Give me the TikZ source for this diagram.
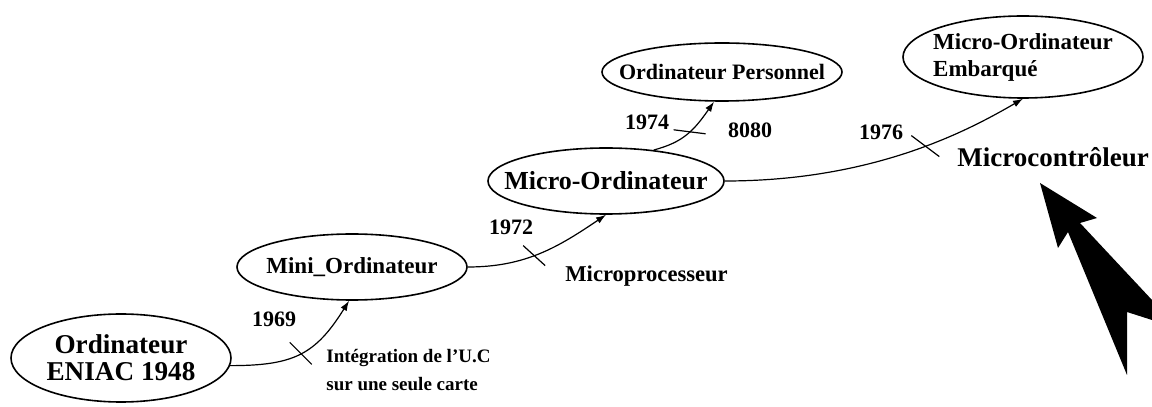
\documentclass[tikz,border=0pt]{standalone}
\usepackage{fontspec}
\setmainfont{Liberation Serif}
\usetikzlibrary{shapes.geometric,arrows.meta}

\begin{document}
\begin{tikzpicture}[x=0.5pt, y=0.5pt,
    bubble/.style={ellipse, draw, line width=0.8pt, inner sep=-20pt, font=\bfseries},
    link/.style={line width=0.6pt, -{Latex[length=5pt,width=3.5pt]}},
    tick/.style={line width=0.6pt},
    lbl/.style={inner sep=0pt, font=\bfseries\fontsize{11}{13}\selectfont}]
    \useasboundingbox (0,0) rectangle (1152,407);
    % the machines
    \node [bubble, minimum width=110pt, minimum height=44pt, align=center,
        font=\bfseries\fontsize{13.6}{13.5}\selectfont] (eniac) at (121,49) {Ordinateur\\ENIAC 1948};
    \node [bubble, minimum width=115pt, minimum height=33pt,
        font=\bfseries\fontsize{11.5}{13}\selectfont] (mini) at (352,140) {Mini\_Ordinateur};
    \node [bubble, minimum width=118pt, minimum height=33pt,
        font=\bfseries\fontsize{13}{15}\selectfont] (micro) at (606,226) {Micro-Ordinateur};
    \node [bubble, minimum width=120pt, minimum height=29pt,
        font=\bfseries\fontsize{11}{13}\selectfont] (pers) at (722,335) {Ordinateur Personnel};
    \node [bubble, minimum width=120pt, minimum height=41pt, align=left,
        font=\bfseries\fontsize{11.5}{13.5}\selectfont] (emb) at (1023,350) {Micro-Ordinateur\\Embarqué};
    % the steps
    \draw [link] (eniac.-4) to[out=0, in=-122, looseness=1.2] coordinate[pos=0.5] (t69) (mini.265);
    \draw [link] (mini.east) to[out=0, in=-146] coordinate[pos=0.45] (t72) (micro.270);
    \draw [link] (micro.33) to[out=15, in=-125, in looseness=1.2] coordinate[pos=0.55] (t74) (pers.255);
    \draw [link] (micro.east) to[out=0, in=-150, out looseness=1.25, in looseness=0.5]
        coordinate[pos=0.55] (t76) (emb.270);
    \draw [tick] (t69) ++(-11,11) -- ++(22,-22);
    \draw [tick] (t72) ++(-11,10) -- ++(22,-20);
    \draw [tick] (t74) ++(-16,2) -- ++(32,-4);
    \draw [tick] (t76) ++(-14,10.5) -- ++(28,-21);
    % dates and what changed
    \node [lbl] (y69) at (274,88) {1969};
    \node [lbl, anchor=north west, align=left, font=\bfseries\fontsize{9.5}{14}\selectfont] (integ)
        at (326,58) {Intégration de l'U.C\\sur une seule carte};
    \node [lbl] (y72) at (511,180) {1972};
    \node [lbl, anchor=west, font=\bfseries\fontsize{11.3}{13}\selectfont] (mproc) at (565,131) {Microprocesseur};
    \node [lbl] (y74) at (647,285) {1974};
    \node [lbl] (n8080) at (750,277) {8080};
    \node [lbl] (y76) at (881,275) {1976};
    \node [lbl, anchor=west, font=\bfseries\fontsize{13.5}{15}\selectfont] (mctrl) at (957,250) {Microcontrôleur};
    % big pointer
    \fill (1040,224) -- (1097,189) -- (1080,184) -- (1152,107) -- (1152,87) -- (1127,95)
        -- (1127,32) -- (1068,175) -- (1058,159) -- cycle;
\end{tikzpicture}
\end{document}
